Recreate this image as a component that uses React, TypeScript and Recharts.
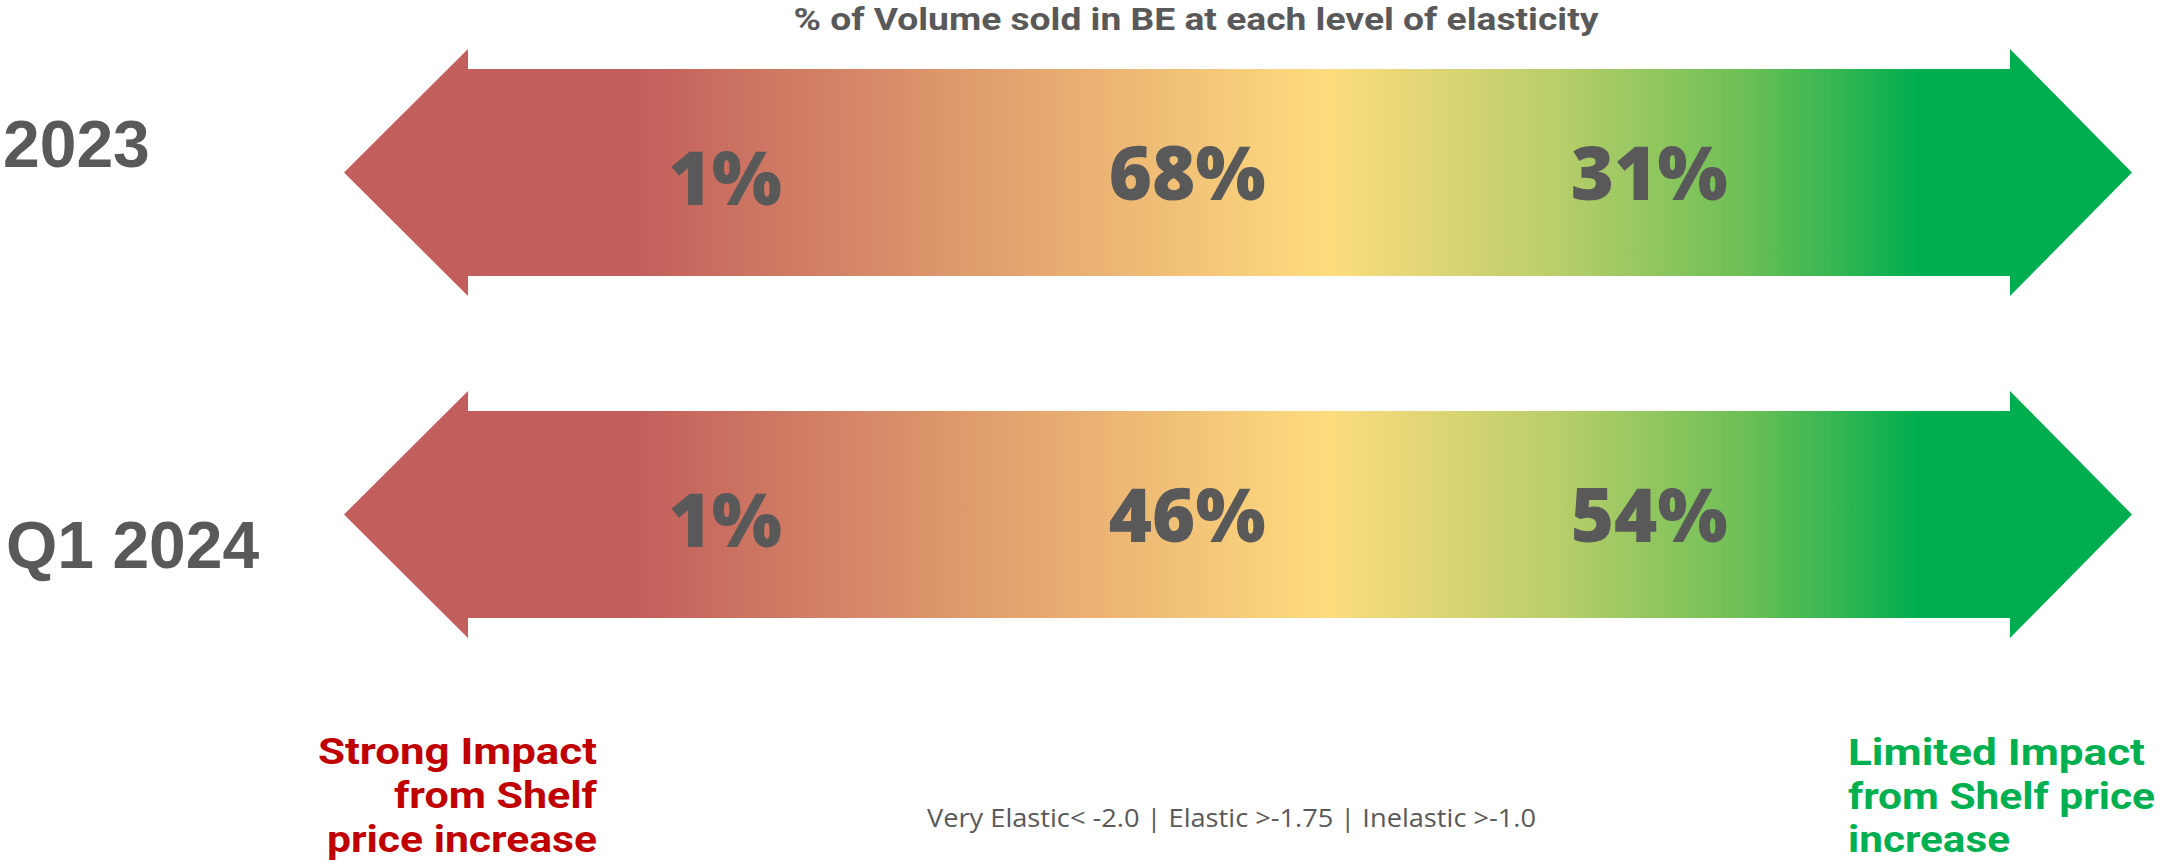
import React from "react";
import { BarChart, Bar, XAxis, YAxis, LabelList } from "recharts";

// ---------- data ----------
const periods = ["2023", "Q1 2024"];
const elasticityLevels = ["Very Elastic", "Elastic", "Inelastic"];
const veryElasticShare = [1, 1];
const elasticShare = [68, 46];
const inelasticShare = [31, 54];
const chartTitle = "% of Volume sold in BE at each level of elasticity";
const thresholdNote = "Very Elastic< -2.0 | Elastic >-1.75 | Inelastic >-1.0";
const strongImpactLines = ["Strong Impact", "from Shelf", "price increase"];
const limitedImpactLines = ["Limited Impact", "from Shelf price", "increase"];

// ---------- layout / style constants ----------
const W = 2161;
const H = 862;
const GREY = "#595959";
// scale extent of the double arrow (each elasticity level occupies one unit: [0,1],[1,2],[2,3])
const ARROW_EXTENT: [number, number] = [-0.325, 3.545];
const SHAFT = 207;
const HEAD_LEN_L = 124;
const HEAD_LEN_R = 122;
const HEAD_OVER = 20;
const YEAR_BASELINE_OFFSET = [-5, 54];
const YEAR_X = [3, 6];
const LEVEL_BASELINE_EXTRA = [5, 0, 0];
const STRONG_WIDTHS = [279, 203, 270];
const LIMITED_WIDTHS = [297, 307, 162];

const rows = periods.map((period, i) => ({
  period,
  arrow: ARROW_EXTENT,
  veryElasticSlot: 1,
  elasticSlot: 1,
  inelasticSlot: 1,
  veryElastic: veryElasticShare[i],
  elastic: elasticShare[i],
  inelastic: inelasticShare[i],
}));

const ArrowShape = (props: any) => {
  const { x, y, width, height } = props;
  const cy = y + height / 2;
  const xl = x + HEAD_LEN_L;
  const xr = x + width - HEAD_LEN_R;
  const pts = [
    [x, cy],
    [xl, y - HEAD_OVER],
    [xl, y],
    [xr, y],
    [xr, y - HEAD_OVER],
    [x + width, cy],
    [xr, y + height + HEAD_OVER],
    [xr, y + height],
    [xl, y + height],
    [xl, y + height + HEAD_OVER],
  ]
    .map((p) => p.join(","))
    .join(" ");
  return <polygon points={pts} fill="url(#elasticityGradient)" />;
};

const makePctLabel = (levelIdx: number) => (props: any) => {
  const vb = props.viewBox || {};
  const x = Number(props.x ?? vb.x);
  const y = Number(props.y ?? vb.y);
  const w = Number(props.width ?? vb.width);
  const h = Number(props.height ?? vb.height);
  return (
    <text
      x={x + w / 2}
      y={y + h / 2 + 27.5 + LEVEL_BASELINE_EXTRA[levelIdx]}
      textAnchor="middle"
      fill={GREY}
      fontFamily="'Open Sans', sans-serif"
      fontWeight={800}
      fontSize={74}
    >
      {`${props.value}%`}
    </text>
  );
};

const YearTick = (props: any) => {
  const { y, payload, index } = props;
  return (
    <text
      x={YEAR_X[index] ?? 3}
      y={y + YEAR_BASELINE_OFFSET[index]}
      textAnchor="start"
      fill={GREY}
      fontFamily="'Liberation Sans', Arial, sans-serif"
      fontWeight={700}
      fontSize={66}
    >
      {payload.value}
    </text>
  );
};

const levelKeys = ["veryElastic", "elastic", "inelastic"];

export default function App() {
  return (
    <div style={{ position: "absolute", left: 0, top: 0, width: W, height: H, background: "#fff" }}>
      <BarChart
        width={W}
        height={H}
        data={rows}
        layout="vertical"
        margin={{ top: 1, right: 29, bottom: 177, left: 0 }}
        barSize={SHAFT}
        barGap={-SHAFT}
      >
        <defs>
          <linearGradient id="elasticityGradient" x1="0" y1="0" x2="1" y2="0">
            <stop offset="0" stopColor="#C25E5C" />
            <stop offset="0.16" stopColor="#C25E5C" />
            <stop offset="0.55" stopColor="#FEDC7E" />
            <stop offset="0.678" stopColor="#B9CE6A" />
            <stop offset="0.785" stopColor="#6BBF55" />
            <stop offset="0.881" stopColor="#00AE4F" />
            <stop offset="1" stopColor="#00AE4F" />
          </linearGradient>
        </defs>
        <XAxis type="number" domain={ARROW_EXTENT} hide />
        <YAxis
          type="category"
          dataKey="period"
          width={344}
          axisLine={false}
          tickLine={false}
          tick={<YearTick />}
          interval={0}
        />
        <Bar dataKey="arrow" shape={<ArrowShape />} isAnimationActive={false} />
        {levelKeys.map((k, li) => (
          <Bar
            key={k}
            dataKey={`${k}Slot`}
            name={elasticityLevels[li]}
            stackId="levels"
            fill="none"
            isAnimationActive={false}
          >
            <LabelList dataKey={k} content={makePctLabel(li)} />
          </Bar>
        ))}
        <text
          x={1196}
          y={30}
          textAnchor="middle"
          fill={GREY}
          fontFamily="Roboto, sans-serif"
          fontWeight={700}
          fontSize={31}
          textLength={805}
          lengthAdjust="spacingAndGlyphs"
        >
          {chartTitle}
        </text>
        <text
          x={927}
          y={827}
          textAnchor="start"
          fill={GREY}
          fontFamily="'Open Sans', sans-serif"
          fontWeight={400}
          fontSize={26}
          textLength={609}
          lengthAdjust="spacingAndGlyphs"
        >
          {thresholdNote}
        </text>
        {strongImpactLines.map((line, i) => (
          <text
            key={"s" + i}
            x={597}
            y={764 + i * 44}
            textAnchor="end"
            fill="#C00000"
            fontFamily="Roboto, sans-serif"
            fontWeight={700}
            fontSize={37}
            textLength={STRONG_WIDTHS[i]}
            lengthAdjust="spacingAndGlyphs"
          >
            {line}
          </text>
        ))}
        {limitedImpactLines.map((line, i) => (
          <text
            key={"l" + i}
            x={1848}
            y={765 + i * 43.5}
            textAnchor="start"
            fill="#00B050"
            fontFamily="Roboto, sans-serif"
            fontWeight={700}
            fontSize={37}
            textLength={LIMITED_WIDTHS[i]}
            lengthAdjust="spacingAndGlyphs"
          >
            {line}
          </text>
        ))}
      </BarChart>
    </div>
  );
}
